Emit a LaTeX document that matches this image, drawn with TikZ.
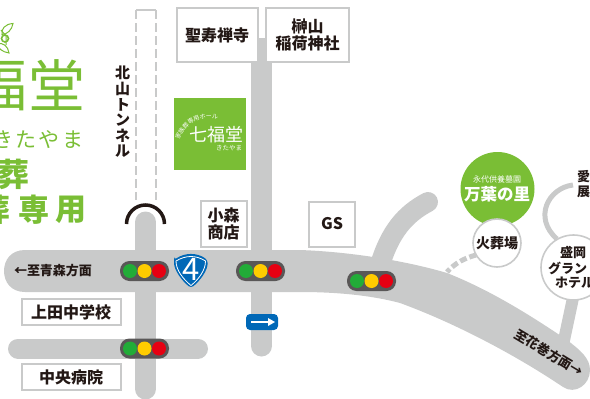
\documentclass[tikz,border=0pt]{standalone}
\usepackage{fontspec}
\usetikzlibrary{decorations.text,arrows.meta}
\setmainfont{Noto Sans CJK JP}
\definecolor{roadgray}{HTML}{C9CACA}
\definecolor{leaf}{HTML}{7ABE35}
\definecolor{ink}{HTML}{231815}
\definecolor{sigdark}{HTML}{595757}
\definecolor{sigg}{HTML}{22AC38}
\definecolor{sigy}{HTML}{FFCC00}
\definecolor{sigr}{HTML}{E60012}
\definecolor{rblue}{HTML}{0068B7}
\tikzset{
 roadline/.style={draw=roadgray,line width=#1,line cap=round},
 labelbox/.style={draw=roadgray,line width=2pt,fill=white,text=ink,align=center,inner sep=0pt,font=\bfseries\fontsize{16}{17}\selectfont},
 circlab/.style={circle,draw=roadgray,line width=1.6pt,fill=white,text=ink,align=center,inner sep=0pt,font=\bfseries\fontsize{14}{15}\selectfont},
 maplabel/.style={text=ink,inner sep=0pt,font=\bfseries\fontsize{13}{15}\selectfont},
 logotext/.style={text=leaf,inner sep=0pt,anchor=center},
 pics/signal/.style={code={
   \fill[sigdark,rounded corners=9.5pt] (-24.5,-10) rectangle (24.5,10);
   \fill[sigg] (-14.5,0) circle (7);
   \fill[sigy] (0,0) circle (7);
   \fill[sigr] (14.5,0) circle (7);
 }}
}
\begin{document}
\begin{tikzpicture}[x=1pt,y=-1pt]
\useasboundingbox (0,0) rectangle (590,399);
% roads
\draw[roadline=21pt] (145.5,222) -- (145.5,389);
\draw[roadline=21pt,line cap=butt] (261.5,38) -- (261.5,346);
\fill[roadgray] (261.5,346) circle (10.5);
\draw[roadline=20pt] (18,348.5) -- (198,348.5);
\draw[roadline=20pt] (380,265) .. controls (390,232) and (405,214) .. (428,202);
\draw[roadline=12pt,line cap=butt] (563,345) -- (573,298);
\draw[roadline=5pt,line cap=butt] (573,185) .. controls (548,188) and (533,218) .. (557,239);
\fill[roadgray] (25,250) -- (300,250) .. controls (355,252) and (410,262) .. (447,273)
  .. controls (490,290) and (530,315) .. (567,340)
  .. controls (580,350) and (590,358) .. (590,370)
  .. controls (590,385) and (575,395) .. (563,387)
  .. controls (520,358) and (460,325) .. (400,303)
  .. controls (370,295) and (335,292) .. (300,292)
  -- (25,292) .. controls (11,292) and (4,282) .. (4,271) .. controls (4,260) and (11,250) .. (25,250) -- cycle;
% tunnel
\draw[roadgray,line width=1.6pt,dash pattern=on 9pt off 4pt] (136,10) -- (136,200);
\draw[roadgray,line width=1.6pt,dash pattern=on 9pt off 4pt] (156,10) -- (156,200);
\draw[roadgray,line width=1.2pt] (136,10) -- (156,10);
\draw[ink,line width=3.5pt] (126.5,224) arc[start angle=180,end angle=360,radius=19];
% dashed branch
\draw[roadgray,line width=5pt,dash pattern=on 7pt off 3pt] (476,255) .. controls (465,258) and (455,263) .. (447,272);
% boxes
\node[labelbox,minimum width=81pt,minimum height=54pt] (seiju) at (217,35) {聖寿禅寺};
\node[labelbox,minimum width=83pt,minimum height=54pt] (inari) at (307.5,35) {榊山\\稲荷神社};
\node[labelbox,minimum width=46pt,minimum height=46pt] (komori) at (223.5,224) {小森\\商店};
\node[labelbox,minimum width=46pt,minimum height=45pt] (gs) at (332,224) {GS};
\node[labelbox,minimum width=99pt,minimum height=26pt] (ueda) at (71,312) {上田中学校};
\node[labelbox,minimum width=99pt,minimum height=26pt] (chuo) at (71,377) {中央病院};
% tunnel label
\node[maplabel,align=center,font=\bfseries\fontsize{15}{15.6}\selectfont] (tunnel) at (122.7,112) {北\\山\\ト\\ン\\ネ\\ル};
% road labels
\node[maplabel] (aomori) at (53,271) {←至青森方面};
\node[maplabel,rotate=-31] (hanamaki) at (549,353) {至花巻方面→};
% signals
\pic at (144.5,271) {signal};
\pic at (260.5,271) {signal};
\pic at (371.5,281) {signal};
\pic at (144.5,348.5) {signal};
% route shield
\fill[rblue,rounded corners=3pt] (174,260) .. controls (185,252.5) and (197,252.5) .. (207.5,260) .. controls (208,270) and (200,281) .. (191,288) .. controls (182,281) and (174,270) .. (174,260) -- cycle;
\draw[white,line width=0.8pt] (176,261) .. controls (186,255) and (196,255) .. (205.5,261) .. controls (205.5,270) and (199,279) .. (191,285.5) .. controls (183,279) and (176,270) .. (176,261) -- cycle;
\node[text=white,inner sep=0pt,font=\fontsize{31}{31}\selectfont] (four) at (191,269.5) {4};
% direction sign
\fill[rblue,rounded corners=4pt] (246,314) rectangle (278,330);
\draw[white,line width=1.4pt] (251,322) -- (270,322);
\fill[white] (275,322) -- (268,318) -- (268,326) -- cycle;
% logo square
\fill[leaf] (174,98) rectangle (246,170);
\node[text=white,inner sep=0pt,font=\fontsize{18}{18}\selectfont] (nana) at (216.5,135) {七福堂};
\node[text=white,inner sep=0pt,font=\fontsize{6.5}{6.5}\selectfont] (kita) at (229,148) {きたやま};
\path[decorate,decoration={text along path,text={|\fontsize{6}{6}\selectfont\color{white}|家族葬専用ホール},text align=center}] (179,144) .. controls (180,128) and (198,113) .. (222,120);
% left logo
\node[logotext,font=\fontsize{57}{57}\selectfont] (fuku) at (-1,85) {福};
\node[logotext,font=\fontsize{57}{57}\selectfont] (dou) at (56.5,85) {堂};
\node[logotext,font=\fontsize{21}{21}\selectfont] (k1) at (3.5,140) {き};
\node[logotext,font=\fontsize{21}{21}\selectfont] (k2) at (26,140) {た};
\node[logotext,font=\fontsize{21}{21}\selectfont] (k3) at (49,140) {や};
\node[logotext,font=\fontsize{21}{21}\selectfont] (k4) at (72.5,140) {ま};
\node[logotext,font=\bfseries\fontsize{32}{32}\selectfont] (sou) at (14,174) {葬};
\node[logotext,font=\bfseries\fontsize{31}{31}\selectfont] (s1) at (-5,210) {葬};
\node[logotext,font=\bfseries\fontsize{31}{31}\selectfont] (s2) at (34,210) {専};
\node[logotext,font=\bfseries\fontsize{31}{31}\selectfont] (s3) at (71,210) {用};
% leaves
\draw[leaf,line width=1pt,fill=white] (13,23.5) .. controls (5,24) and (1,29) .. (2,34.5) .. controls (7,34.5) and (12,30) .. (13,23.5) -- cycle;
\draw[leaf,line width=1pt,fill=white] (9,53) .. controls (2,52) and (-2,48) .. (-3,44) .. controls (3,42) and (8,46) .. (9,53) -- cycle;
\draw[leaf,line width=1.6pt] (5,38.5) circle (3.5);
\draw[leaf,line width=1pt] (1,30) -- (6,36) -- (6,45);
% circles
\node[circle,fill=leaf,minimum size=74pt,inner sep=0pt] (manyo) at (497.5,189) {};
\node[text=white,inner sep=0pt,font=\fontsize{8}{8}\selectfont] (eitai) at (497,179) {永代供養墓園};
\node[text=white,inner sep=0pt,font=\bfseries\fontsize{16.5}{16.5}\selectfont] (sato) at (497,194) {万葉の里};
\node[circlab,minimum size=48pt] (kaso) at (497,243) {火葬場};
\node[circlab,minimum size=65pt] (hotel) at (573.5,267.5) {};
\node[maplabel,anchor=west] (h1) at (560,253) {盛岡};
\node[maplabel,anchor=west] (h2) at (548,268) {グラン};
\node[maplabel,anchor=west] (h3) at (555,283) {ホテル};
\node[maplabel,anchor=west] (ai) at (577,177) {愛};
\node[maplabel,anchor=west] (ten) at (577,192) {展};
\end{tikzpicture}
\end{document}
